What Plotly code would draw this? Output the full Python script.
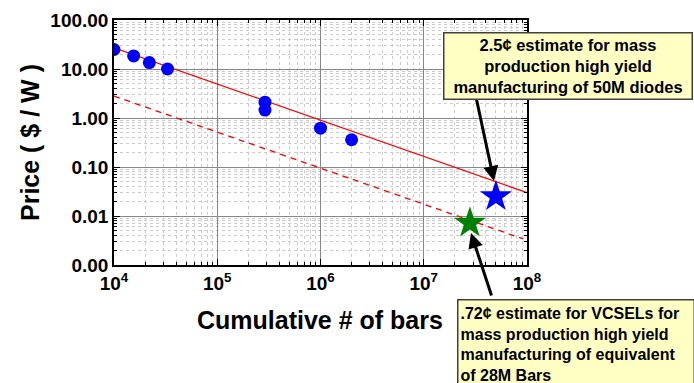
import plotly.graph_objects as go

# Data
bars_x = [1.0e4, 1.55e4, 2.2e4, 3.3e4, 2.9e5, 2.9e5, 1.0e6, 2.0e6]
price_y = [25, 18.5, 13.5, 10, 2.1, 1.45, 0.62, 0.36]
trend_x = [1.0e4, 1.0e8]
trend_y = [27, 0.030]
trend2_x = [1.0e4, 9.2e7]
trend2_y = [2.8, 0.0034]
diode_x = [5.0e7]
diode_y = [0.025]
vcsel_x = [2.8e7]
vcsel_y = [0.0072]

x_tickvals = [1e4, 1e5, 1e6, 1e7, 1e8]
x_ticktext = ["10<sup>4</sup>", "10<sup>5</sup>", "10<sup>6</sup>", "10<sup>7</sup>", "10<sup>8</sup>"]
y_tickvals = [1e-3, 1e-2, 1e-1, 1, 10, 100]
y_ticktext = ["0.00", "0.01", "0.10", "1.00", "10.00", "100.00"]

FONT = "Arial, Liberation Sans, sans-serif"

fig = go.Figure()
fig.add_trace(go.Scatter(x=trend_x, y=trend_y, mode="lines",
                         line=dict(color="#FF0000", width=1.3)))
fig.add_trace(go.Scatter(x=trend2_x, y=trend2_y, mode="lines",
                         line=dict(color="#FF0000", width=1.3, dash="6px,5px")))
fig.add_trace(go.Scatter(x=bars_x, y=price_y, mode="markers",
                         marker=dict(color="#0000FF", size=13, symbol="circle")))
fig.add_trace(go.Scatter(x=diode_x, y=diode_y, mode="markers",
                         marker=dict(color="#0000FF", size=24, symbol="star")))
fig.add_trace(go.Scatter(x=vcsel_x, y=vcsel_y, mode="markers",
                         marker=dict(color="#008000", size=24, symbol="star")))

L, R, T, B = 114, 167, 20, 118
W, H = 694, 383
pw, ph = W - L - R, H - T - B

def px(xp):
    return (xp - L) / pw

def py(yp):
    return (H - B - yp) / ph

axis_common = dict(
    type="log", showline=True, linecolor="black", linewidth=1.5, mirror="allticks",
    ticks="inside", ticklen=6, tickcolor="black",
    showgrid=True, gridcolor="#888888", gridwidth=1,
    zeroline=False,
    tickfont=dict(family=FONT, size=19, color="black", weight="bold"),
    minor=dict(dtick="D1", ticks="inside", ticklen=3, tickcolor="black",
               showgrid=True, gridcolor="#cccccc", griddash="dot", gridwidth=1),
)

fig.update_xaxes(range=[4, 8], tickmode="array", tickvals=x_tickvals, ticktext=x_ticktext,
                 **axis_common)
fig.update_yaxes(range=[-3, 2], tickmode="array", tickvals=y_tickvals, ticktext=y_ticktext,
                 **axis_common)

annos = []
# axis titles
annos.append(dict(text="<b>Price ( $ / W )</b>", xref="paper", yref="paper",
                  x=px(30), y=py(143), xanchor="center", yanchor="middle",
                  showarrow=False, textangle=-90,
                  font=dict(family=FONT, size=25, color="black")))
annos.append(dict(text="<b>Cumulative # of bars</b>", xref="paper", yref="paper",
                  x=px(320), y=py(320), xanchor="center", yanchor="middle",
                  showarrow=False,
                  font=dict(family=FONT, size=25, color="black")))
# arrows
annos.append(dict(text="", xref="paper", yref="paper", x=px(494), y=py(181),
                  ax=-18, ay=-84, showarrow=True, arrowhead=2, arrowsize=1,
                  arrowwidth=3, arrowcolor="black"))
annos.append(dict(text="", xref="paper", yref="paper", x=px(471), y=py(233),
                  ax=21, ay=64, showarrow=True, arrowhead=2, arrowsize=1,
                  arrowwidth=3, arrowcolor="black"))
# boxes
annos.append(dict(text="<b>2.5¢ estimate for mass<br>production high yield<br>manufacturing of 50M diodes</b>",
                  xref="paper", yref="paper", x=px(443), y=py(32),
                  xanchor="left", yanchor="top", showarrow=False, align="center",
                  width=243, height=61, borderpad=2,
                  bgcolor="#FFFFC4", bordercolor="#404040", borderwidth=1.5,
                  font=dict(family=FONT, size=16.5, color="black")))
annos.append(dict(text="<b>.72¢ estimate for VCSELs for<br>mass production high yield<br>manufacturing of equivalent<br>of 28M Bars</b>",
                  xref="paper", yref="paper", x=px(457), y=py(299),
                  xanchor="left", yanchor="top", showarrow=False, align="left",
                  width=231, height=84, borderpad=2,
                  bgcolor="#FFFFC4", bordercolor="#404040", borderwidth=1.5,
                  font=dict(family=FONT, size=16, color="black")))

fig.update_layout(
    width=W, height=H, margin=dict(l=L, r=R, t=T, b=B, autoexpand=False),
    paper_bgcolor="white", plot_bgcolor="white", showlegend=False,
    annotations=annos,
)

fig.write_html("out.html", config={"displayModeBar": False},
               post_script="document.body.style.margin='0';")
